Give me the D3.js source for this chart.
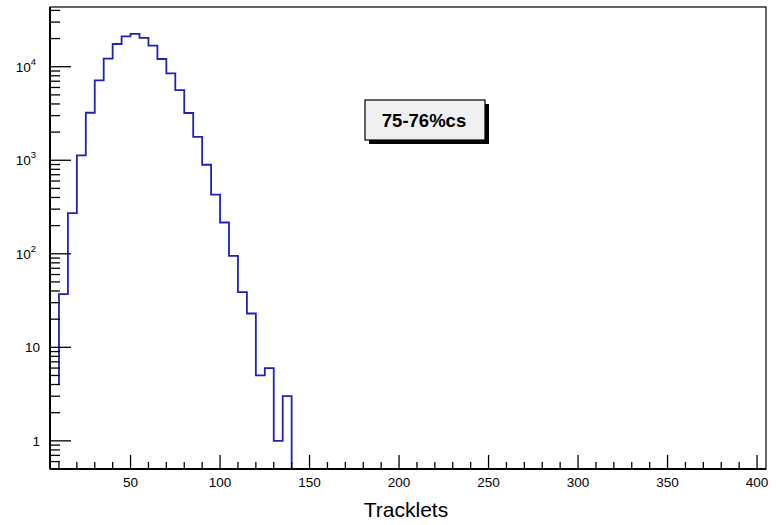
<!DOCTYPE html>
<html>
<head>
<meta charset="utf-8">
<script src="https://cdn.jsdelivr.net/npm/d3@7"></script>
<style>
  html, body { margin: 0; padding: 0; background: #ffffff; }
  svg { display: block; font-family: "Liberation Sans", Arial, Helvetica, sans-serif; }
</style>
</head>
<body>
<svg id="chart" width="776" height="525"></svg>
<script>
// ---- data ----
const binLowEdges = [10, 15, 20, 25, 30, 35, 40, 45, 50, 55, 60, 65, 70, 75, 80, 85, 90, 95, 100, 105, 110, 115, 120, 125, 130, 135];
const binWidth = 5;
const binCounts = [37, 272, 1130, 3220, 7140, 12200, 17500, 21100, 22400, 20300, 16800, 12100, 8480, 5630, 3200, 1780, 895, 428, 216, 95, 39, 23, 5, 6, 1, 3];
const startLevel = 4;
const xTickValues = [50, 100, 150, 200, 250, 300, 350, 400];
const yMajorTicks = [1, 10, 100, 1000, 10000];
const yTickLabels = ["1", "10", "10^2", "10^3", "10^4"];
const xTitle = "Tracklets";
const boxLabel = "75-76%cs";
const xDomain = [5, 405];
const yDomain = [0.5, 43500];

// ---- layout ----
const svg = d3.select("#chart");
const L = 50, R = 766, T = 7, B = 469;
const x = d3.scaleLinear().domain(xDomain).range([L, R]);
const y = d3.scaleLog().domain(yDomain).range([B, T]);

svg.append("rect").attr("width", 776).attr("height", 525).attr("fill", "#ffffff");

// histogram outline
const pts = [[binLowEdges[0], startLevel]];
binLowEdges.forEach((lo, i) => {
  pts.push([lo, binCounts[i]]);
  pts.push([lo + binWidth, binCounts[i]]);
});
pts.push([binLowEdges[binLowEdges.length - 1] + binWidth, yDomain[0]]);
const line = d3.line().x(d => x(d[0])).y(d => y(d[1]));
svg.append("path")
  .attr("d", line(pts))
  .attr("fill", "none")
  .attr("stroke", "#2222b2")
  .attr("stroke-width", 1.8)
  .attr("stroke-linejoin", "miter");

// frame
svg.append("rect")
  .attr("x", L).attr("y", T).attr("width", R - L).attr("height", B - T)
  .attr("fill", "none").attr("stroke", "#000").attr("stroke-width", 1.2);
svg.append("line").attr("x1", L).attr("x2", L).attr("y1", T).attr("y2", B)
  .attr("stroke", "#000").attr("stroke-width", 2);
svg.append("line").attr("x1", L).attr("x2", R).attr("y1", B).attr("y2", B)
  .attr("stroke", "#000").attr("stroke-width", 2);

// x axis ticks
const xMinor = d3.range(10, 401, 10).filter(v => v % 50 !== 0);
const gx = svg.append("g");
gx.selectAll("line.minor").data(xMinor).enter().append("line")
  .attr("x1", d => x(d)).attr("x2", d => x(d))
  .attr("y1", B).attr("y2", B - 7)
  .attr("stroke", "#000").attr("stroke-width", 1.3);
gx.selectAll("line.major").data(xTickValues).enter().append("line")
  .attr("x1", d => x(d)).attr("x2", d => x(d))
  .attr("y1", B).attr("y2", B - 14)
  .attr("stroke", "#000").attr("stroke-width", 1.3);
gx.selectAll("text").data(xTickValues).enter().append("text")
  .attr("x", d => x(d)).attr("y", 487)
  .attr("text-anchor", "middle")
  .attr("font-size", 13.5)
  .attr("fill", "#000")
  .text(d => d);

// y axis ticks
const yMinor = [];
[0.1, 1, 10, 100, 1000, 10000].forEach(dec => {
  for (let k = 2; k <= 9; k++) {
    const v = dec * k;
    if (v > yDomain[0] && v < yDomain[1]) yMinor.push(v);
  }
});
const gy = svg.append("g");
gy.selectAll("line.minor").data(yMinor).enter().append("line")
  .attr("x1", L).attr("x2", L + 10)
  .attr("y1", d => y(d)).attr("y2", d => y(d))
  .attr("stroke", "#000").attr("stroke-width", 1.3);
gy.selectAll("line.major").data(yMajorTicks).enter().append("line")
  .attr("x1", L).attr("x2", L + 21)
  .attr("y1", d => y(d)).attr("y2", d => y(d))
  .attr("stroke", "#000").attr("stroke-width", 1.3);
yMajorTicks.forEach((v, i) => {
  const lab = yTickLabels[i];
  const parts = lab.split("^");
  const t = svg.append("text")
    .attr("y", y(v) + 5)
    .attr("text-anchor", "end")
    .attr("font-size", 13.5)
    .attr("fill", "#000");
  if (parts.length === 2) {
    t.attr("x", 36);
    t.append("tspan").text(parts[0]);
    t.append("tspan").attr("dy", -7).attr("font-size", 9.5).text(parts[1]);
  } else {
    t.attr("x", 40).text(lab);
  }
});

// x title
svg.append("text")
  .attr("x", 406).attr("y", 517)
  .attr("text-anchor", "middle")
  .attr("font-size", 21)
  .attr("fill", "#000")
  .text(xTitle);

// label box with shadow
const bx = 365, by = 100, bw = 120, bh = 40, off = 4;
svg.append("rect").attr("x", bx + off).attr("y", by + off).attr("width", bw).attr("height", bh)
  .attr("fill", "#000");
svg.append("rect").attr("x", bx).attr("y", by).attr("width", bw).attr("height", bh)
  .attr("fill", "#f0f0f0").attr("stroke", "#000").attr("stroke-width", 1.2);
svg.append("text")
  .attr("x", bx + bw / 2 - 1).attr("y", 127)
  .attr("text-anchor", "middle")
  .attr("font-size", 18.5)
  .attr("font-weight", "bold")
  .attr("fill", "#000")
  .text(boxLabel);
</script>
</body>
</html>
